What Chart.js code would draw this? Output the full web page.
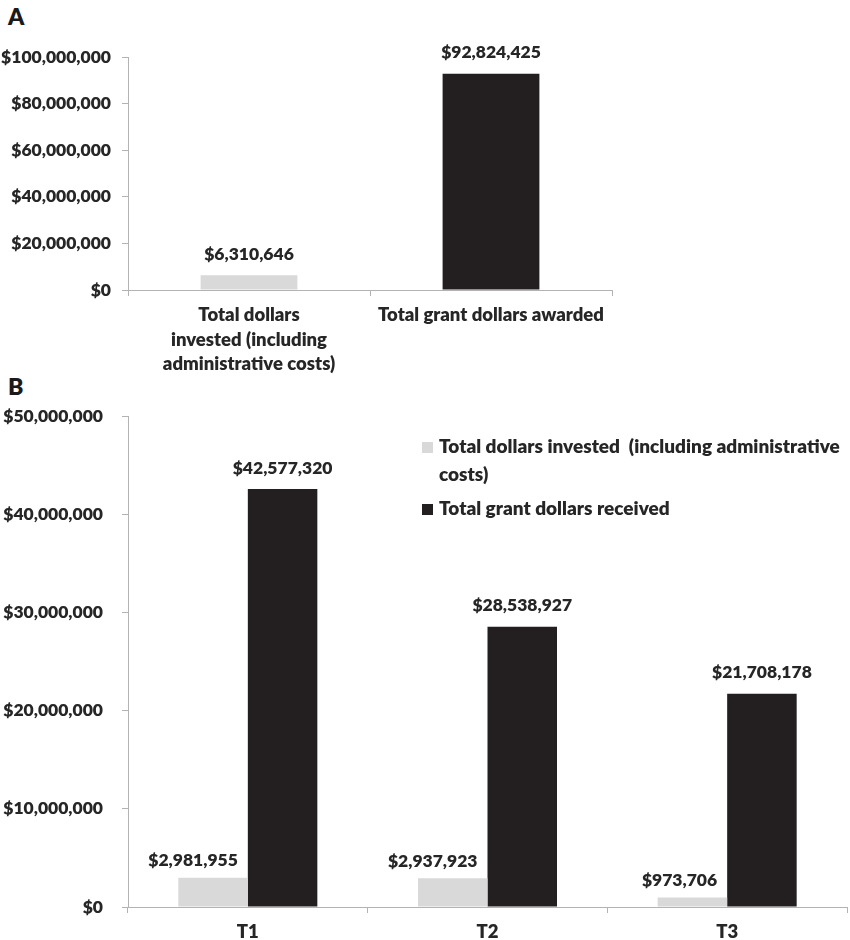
<!DOCTYPE html>
<html>
<head>
<meta charset="utf-8">
<script src="https://cdn.jsdelivr.net/npm/chart.js@4"></script>
<style>
  html, body { margin: 0; padding: 0; background: #fff; }
  body { width: 850px; height: 940px; position: relative; overflow: hidden; font-family: Lato, "Open Sans", sans-serif; }
  .panel { position: absolute; left: 8px; font-weight: 800; font-size: 23px; color: #1a1a1a; }
  #wrapA { position: absolute; left: 0; top: 0; width: 850px; height: 382px; }
  #wrapB { position: absolute; left: 0; top: 375px; width: 850px; height: 565px; }
</style>
</head>
<body>
<div class="panel" style="top:2px">A</div>
<div class="panel" style="top:372px">B</div>
<div id="wrapA"><canvas id="chartA" width="850" height="382"></canvas></div>
<div id="wrapB"><canvas id="chartB" width="850" height="565"></canvas></div>
<script>
// ---- Data ----
const categoriesA = [["Total dollars", "invested (including", "administrative costs)"], "Total grant dollars awarded"];
const valuesA = [6310646, 92824425];

const categoriesB = ["T1", "T2", "T3"];
const investedB = [2981955, 2937923, 973706];
const receivedB = [42577320, 28538927, 21708178];
const seriesNamesB = ["Total dollars invested  (including administrative costs)", "Total grant dollars received"];
const legendLinesB = [["Total dollars invested  (including administrative", "costs)"], ["Total grant dollars received"]];

const ticksA = [0, 20000000, 40000000, 60000000, 80000000, 100000000];
const ticksB = [0, 10000000, 20000000, 30000000, 40000000, 50000000];

// ---- Styles ----
const GRAY = "#d9d9d9";
const BLACK = "#231f20";
const TEXT = "#262626";
const AXIS = "#b3b3b3";
const FONT = "Lato, 'Open Sans', sans-serif";
const W = "800";

function money(v) { return "$" + Number(v).toLocaleString("en-US"); }

const valueLabels = {
  id: "valueLabels",
  afterDatasetsDraw(chart) {
    const ctx = chart.ctx;
    ctx.save();
    ctx.font = W + " 17.5px " + FONT;
    ctx.fillStyle = TEXT;
    ctx.textBaseline = "middle";
    chart.data.datasets.forEach((ds, di) => {
      const meta = chart.getDatasetMeta(di);
      meta.data.forEach((el, i) => {
        if (ds.labelRight) {
          ctx.textAlign = "right";
          ctx.fillText(money(ds.data[i]), el.x + el.width / 2 - 10, el.y - 17);
        } else {
          ctx.textAlign = "center";
          ctx.fillText(money(ds.data[i]), el.x, el.y - 21);
        }
      });
    });
    ctx.restore();
  }
};

const innerLegend = {
  id: "innerLegend",
  afterDraw(chart, args, opts) {
    if (!opts || !opts.lines) return;
    const ctx = chart.ctx;
    ctx.save();
    ctx.font = W + " 19px " + FONT;
    ctx.textBaseline = "middle";
    ctx.textAlign = "left";
    let y = opts.y;
    opts.lines.forEach((lines, i) => {
      ctx.fillStyle = chart.data.datasets[i].backgroundColor;
      ctx.fillRect(opts.x, y - 5, 11, 11);
      ctx.fillStyle = TEXT;
      lines.forEach((ln, j) => {
        ctx.fillText(ln, opts.x + 17, y + j * 28);
      });
      y += lines.length * 28 + 6;
    });
    ctx.restore();
  }
};

function yScale(max, ticksArr, width, pad) {
  return {
    min: 0, max: max,
    afterFit(s) { s.width = width; },
    afterBuildTicks(s) { s.ticks = ticksArr.map(v => ({ value: v })); },
    grid: { drawOnChartArea: false, drawTicks: true, tickLength: 6, color: AXIS },
    border: { color: AXIS, width: 1 },
    ticks: {
      color: TEXT,
      padding: pad,
      font: { family: FONT, size: 17.5, weight: W },
      callback: v => money(v)
    }
  };
}

function xScale(height) {
  return {
    afterFit(s) { s.height = height; },
    grid: { offset: true, drawOnChartArea: false, drawTicks: true, tickLength: 6, color: AXIS },
    border: { color: AXIS, width: 1 },
    ticks: {
      color: TEXT,
      padding: 7,
      maxRotation: 0,
      autoSkip: false,
      font: { family: FONT, size: 18.5, weight: W, lineHeight: 1.32 }
    }
  };
}

new Chart(document.getElementById("chartA"), {
  type: "bar",
  data: {
    labels: categoriesA,
    datasets: [{
      label: "A",
      data: valuesA,
      backgroundColor: [GRAY, BLACK],
      barPercentage: 1.0,
      categoryPercentage: 0.4
    }]
  },
  options: {
    responsive: false,
    animation: false,
    layout: { padding: { top: 57, right: 238, left: 0, bottom: 0 } },
    plugins: { legend: { display: false }, tooltip: { enabled: false } },
    scales: { x: xScale(92), y: yScale(100000000, ticksA, 128, 11) }
  },
  plugins: [valueLabels]
});

new Chart(document.getElementById("chartB"), {
  type: "bar",
  data: {
    labels: categoriesB,
    datasets: [
      { label: seriesNamesB[0], data: investedB, backgroundColor: GRAY, barPercentage: 1.0, categoryPercentage: 0.58, labelRight: true },
      { label: seriesNamesB[1], data: receivedB, backgroundColor: BLACK, barPercentage: 1.0, categoryPercentage: 0.58 }
    ]
  },
  options: {
    responsive: false,
    animation: false,
    layout: { padding: { top: 41, right: 3, left: 0, bottom: 0 } },
    plugins: {
      legend: { display: false },
      tooltip: { enabled: false },
      innerLegend: { x: 422, y: 72, lines: legendLinesB }
    },
    scales: { x: xScale(33), y: yScale(50000000, ticksB, 128, 19) }
  },
  plugins: [valueLabels, innerLegend]
});
</script>
</body>
</html>
